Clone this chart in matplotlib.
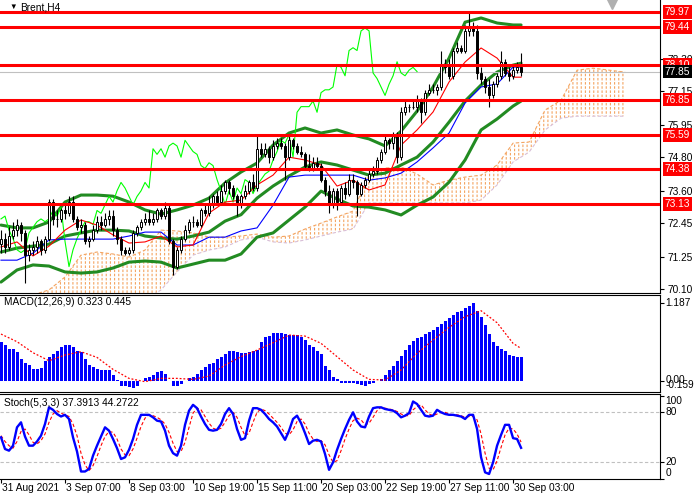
import matplotlib
matplotlib.use("Agg")
import matplotlib.pyplot as plt
from matplotlib.transforms import blended_transform_factory
import numpy as np

plt.rcParams['font.family'] = ['Liberation Sans', 'DejaVu Sans']
plt.rcParams['hatch.color'] = '#F4A460'

# ---- price bars (Brent H4) ----
opens = [71.7, 71.9, 71.6, 72.0, 72.2, 72.4, 72.1, 71.3, 71.5, 71.6,
         71.8, 71.5, 71.9, 73.2, 72.6, 72.6, 72.9, 72.8, 73.2, 72.6,
         72.3, 72.4, 71.8, 71.9, 72.2, 72.5, 72.4, 72.6, 72.7, 72.2,
         71.9, 71.5, 71.4, 71.5, 72.1, 72.3, 72.5, 72.6, 72.5, 72.6,
         72.9, 72.7, 73.0, 71.8, 70.9, 71.5, 71.9, 72.2, 72.5, 72.5,
         72.4, 72.9, 72.8, 73.1, 73.4, 73.2, 73.6, 73.9, 73.7, 73.4,
         73.1, 73.4, 73.6, 73.9, 73.7, 75.1, 74.9, 75.1, 74.8, 75.2,
         75.3, 75.2, 74.8, 75.4, 75.2, 75.0, 74.9, 74.5, 74.4, 74.6,
         74.5, 74.0, 73.6, 73.1, 73.6, 73.2, 73.7, 73.5, 74.0, 73.9,
         73.5, 73.8, 74.0, 74.2, 74.3, 74.7, 75.0, 75.4, 75.3, 75.6,
         74.8, 76.4, 76.6, 76.6, 76.6, 76.8, 76.4, 77.1, 77.2, 77.2,
         77.3, 78.1, 78.0, 77.7, 78.6, 78.7, 78.6, 79.3, 79.4, 79.3,
         77.8, 77.6, 77.3, 77.0, 77.4, 77.7, 78.2, 77.8, 77.7, 77.9,
         78.0]
highs = [72.2, 72.1, 72.3, 72.5, 72.6, 72.5, 72.2, 71.7, 71.8, 72.0,
         71.9, 72.0, 73.3, 73.3, 72.9, 73.0, 73.1, 73.4, 73.4, 72.7,
         72.6, 72.5, 72.0, 72.4, 72.7, 72.7, 72.8, 72.9, 72.9, 72.3,
         72.0, 71.6, 71.6, 72.2, 72.4, 72.6, 72.8, 72.9, 72.8, 73.0,
         73.0, 73.2, 73.1, 71.9, 71.6, 72.0, 72.4, 72.6, 72.7, 72.6,
         73.0, 73.1, 73.4, 73.5, 73.6, 73.8, 74.0, 74.0, 73.8, 73.5,
         73.5, 73.8, 74.0, 74.2, 75.6, 75.3, 75.3, 75.2, 75.4, 75.5,
         75.5, 75.3, 75.6, 75.5, 75.3, 75.2, 75.0, 74.9, 74.8, 74.8,
         74.6, 74.1, 73.8, 73.7, 73.7, 73.8, 73.9, 74.2, 74.2, 74.0,
         73.9, 74.1, 74.4, 74.5, 74.8, 75.1, 75.6, 75.5, 75.7, 75.7,
         76.6, 76.8, 76.7, 76.8, 77.0, 76.9, 77.2, 77.4, 77.4, 77.4,
         78.6, 78.3, 78.3, 78.7, 78.9, 78.8, 79.5, 79.97, 79.6, 79.5,
         78.0, 77.7, 77.6, 77.5, 77.8, 78.6, 78.3, 78.0, 78.1, 78.2,
         78.5]
lows = [71.4, 71.4, 71.5, 71.9, 72.0, 71.8, 70.3, 71.1, 71.3, 71.4,
        71.3, 71.4, 71.8, 72.4, 72.3, 72.5, 72.6, 72.7, 72.5, 72.2,
        72.1, 71.7, 71.6, 71.8, 72.1, 72.2, 72.3, 72.4, 72.0, 71.7,
        71.3, 71.3, 71.3, 71.4, 72.0, 72.2, 72.4, 72.4, 72.4, 72.5,
        72.6, 72.6, 71.7, 70.6, 70.8, 71.4, 71.8, 72.1, 72.3, 72.3,
        72.3, 72.7, 72.7, 73.0, 73.1, 73.1, 73.5, 73.5, 73.3, 72.7,
        73.0, 73.3, 73.5, 73.6, 73.6, 74.8, 74.8, 74.6, 74.7, 75.1,
        75.1, 74.0, 74.7, 75.1, 74.9, 74.8, 74.4, 74.3, 74.3, 74.4,
        73.9, 73.4, 72.8, 73.0, 72.9, 73.1, 73.3, 73.4, 73.7, 72.7,
        73.4, 73.7, 73.9, 74.1, 74.2, 74.6, 74.9, 75.1, 75.1, 74.6,
        74.7, 76.3, 76.4, 76.5, 76.4, 76.0, 76.3, 77.0, 77.1, 77.0,
        77.2, 77.8, 77.6, 77.6, 78.5, 78.5, 78.5, 79.1, 79.1, 77.6,
        77.4, 77.1, 76.6, 76.9, 77.3, 77.6, 77.7, 77.5, 77.6, 77.8,
        77.7]
closes = [71.9, 71.6, 72.0, 72.2, 72.4, 72.1, 71.3, 71.5, 71.6, 71.8,
          71.5, 71.9, 73.2, 72.6, 72.6, 72.9, 72.8, 73.2, 72.6, 72.3,
          72.4, 71.8, 71.9, 72.2, 72.5, 72.4, 72.6, 72.7, 72.2, 71.9,
          71.5, 71.4, 71.5, 72.1, 72.3, 72.5, 72.6, 72.5, 72.6, 72.9,
          72.7, 73.0, 71.8, 70.9, 71.5, 71.9, 72.2, 72.5, 72.5, 72.4,
          72.9, 72.8, 73.1, 73.4, 73.2, 73.6, 73.9, 73.7, 73.4, 73.1,
          73.4, 73.6, 73.9, 73.7, 75.1, 74.9, 75.1, 74.8, 75.2, 75.3,
          75.2, 74.8, 75.4, 75.2, 75.0, 74.9, 74.5, 74.4, 74.6, 74.5,
          74.0, 73.6, 73.1, 73.6, 73.2, 73.7, 73.5, 74.0, 73.9, 73.5,
          73.8, 74.0, 74.2, 74.3, 74.7, 75.0, 75.4, 75.3, 75.6, 74.8,
          76.4, 76.6, 76.6, 76.6, 76.8, 76.4, 77.1, 77.2, 77.2, 77.3,
          78.1, 78.0, 77.7, 78.6, 78.7, 78.6, 79.3, 79.4, 79.3, 77.8,
          77.6, 77.3, 77.0, 77.4, 77.7, 78.2, 77.8, 77.7, 77.9, 78.0,
          77.85]

# ---- indicator lines, read every 4th bar (plus last bar) ----
bb_upper = [72.38, 72.28, 72.28, 72.49, 73.20, 73.45, 73.45, 73.41, 73.20, 72.92,
            72.77, 72.92, 73.09, 73.34, 73.88, 74.27, 74.59, 75.23, 75.66, 75.84,
            75.66, 75.77, 75.59, 75.45, 75.20, 75.73, 76.44, 77.30, 78.33, 79.61,
            79.76, 79.58, 79.51, 79.51]
bb_middle = [71.42, 71.56, 71.63, 71.70, 71.99, 72.10, 72.20, 72.20, 72.17, 71.99,
             71.92, 71.88, 71.99, 72.13, 72.52, 72.75, 73.34, 73.77, 74.13, 74.45,
             74.63, 74.52, 74.34, 74.16, 74.23, 74.52, 74.80, 75.34, 76.05, 76.80,
             77.37, 77.83, 78.08, 78.15]
bb_lower = [70.35, 70.78, 70.96, 70.92, 70.71, 70.67, 70.71, 70.85, 71.06, 71.10,
            71.06, 70.85, 70.99, 71.13, 71.13, 71.35, 71.95, 72.10, 72.56, 73.02,
            73.59, 73.31, 73.06, 73.02, 72.92, 72.74, 73.09, 73.38, 73.91, 74.70,
            75.77, 76.16, 76.62, 76.80]
tenkan = [71.60, 71.78, 71.28, 71.63, 72.20, 72.56, 72.38, 72.03, 71.74, 71.78,
          71.99, 71.60, 71.67, 72.81, 73.20, 73.27, 73.81, 74.16, 74.80, 74.70,
          74.52, 73.77, 73.98, 73.63, 73.81, 75.23, 75.77, 76.41, 77.48, 78.19,
          78.69, 78.33, 77.65, 77.65]
kijun = [71.13, 71.13, 71.38, 71.85, 71.88, 71.88, 71.88, 71.88, 71.99, 72.13,
         72.13, 71.67, 71.67, 71.95, 71.95, 72.17, 72.28, 73.09, 74.09, 74.16,
         74.16, 74.16, 74.16, 73.98, 74.06, 74.23, 74.63, 75.13, 75.66, 76.73,
         77.30, 77.41, 78.01, 78.01]
# cloud, every 4th bar up to 26 bars past the last candle
senkou_a = [69.71, 69.71, 69.89, 70.07, 70.53, 71.31, 71.42, 71.35, 71.24, 71.49,
            72.20, 72.17, 72.10, 71.95, 71.95, 71.99, 72.06, 71.95, 71.99, 72.24,
            72.45, 72.67, 72.88, 74.16, 74.41, 74.45, 74.20, 73.81, 73.98, 74.09,
            74.16, 74.52, 75.30, 75.34, 76.48, 76.83, 77.90, 77.97, 77.90, 77.83]
senkou_b = [69.35, 69.35, 69.35, 69.35, 69.35, 69.53, 69.53, 69.53, 69.60, 69.71,
            70.07, 70.71, 71.31, 71.49, 71.60, 71.85, 71.95, 71.78, 71.74, 71.85,
            71.99, 72.13, 72.24, 73.17, 73.17, 73.17, 73.17, 73.17, 73.17, 73.17,
            73.27, 73.81, 74.63, 74.98, 75.77, 76.19, 76.26, 76.26, 76.26, 76.26]

levels = [79.97, 79.44, 78.10, 76.85, 75.59, 74.38, 73.13]
last_price = 77.85
price_ticks = [70.10, 71.25, 72.45, 73.60, 74.80, 75.95, 77.15, 78.30]

# ---- MACD(12,26,9) ----
macd_hist = [0.53, 0.49, 0.44, 0.44, 0.40, 0.30, 0.25, 0.21, 0.16, 0.16,
             0.18, 0.27, 0.32, 0.37, 0.41, 0.46, 0.49, 0.49, 0.46, 0.41,
             0.40, 0.30, 0.21, 0.19, 0.16, 0.14, 0.14, 0.14, 0.07, 0.01,
             -0.07, -0.07, -0.09, -0.10, -0.07, -0.01, 0.03, 0.05, 0.08, 0.12,
             0.13, 0.09, 0.00, -0.07, -0.08, -0.05, -0.01, 0.04, 0.05, 0.09,
             0.14, 0.19, 0.23, 0.25, 0.30, 0.33, 0.37, 0.41, 0.41, 0.40,
             0.38, 0.38, 0.40, 0.41, 0.42, 0.53, 0.60, 0.62, 0.66, 0.66,
             0.66, 0.65, 0.63, 0.63, 0.63, 0.60, 0.56, 0.50, 0.46, 0.41,
             0.37, 0.20, 0.14, 0.05, 0.02, -0.03, -0.04, -0.04, -0.04, -0.05,
             -0.06, -0.07, -0.05, -0.03, 0.00, 0.02, 0.07, 0.14, 0.20, 0.27,
             0.34, 0.42, 0.50, 0.55, 0.59, 0.61, 0.64, 0.67, 0.70, 0.74,
             0.78, 0.83, 0.87, 0.91, 0.95, 0.97, 1.01, 1.04, 1.07, 0.97,
             0.88, 0.77, 0.65, 0.54, 0.48, 0.44, 0.41, 0.36, 0.34, 0.33,
             0.323]
macd_signal = [0.645, 0.539, 0.386, 0.275, 0.354, 0.400, 0.321, 0.155, 0.030, -0.016,
               0.030, 0.030, 0.016, 0.062, 0.215, 0.331, 0.423, 0.525, 0.631, 0.617,
               0.516, 0.331, 0.146, 0.016, 0.007, 0.146, 0.377, 0.562, 0.738, 0.886,
               0.969, 0.802, 0.516, 0.445]

# ---- Stochastic(5,3,3) ----
stoch_k = [50, 36, 34, 40, 62, 68, 51, 40, 40, 45,
           52, 66, 86, 83, 78, 75, 77, 72, 50, 33,
           9, 9, 12, 28, 40, 51, 62, 58, 48, 37,
           24, 26, 35, 48, 65, 77, 77, 77, 74, 70,
           69, 58, 40, 31, 28, 40, 65, 82, 89, 85,
           75, 66, 59, 58, 59, 66, 78, 85, 78, 60,
           47, 49, 70, 85, 85, 83, 78, 72, 68, 63,
           55, 47, 58, 72, 76, 67, 55, 42, 46, 47,
           45, 30, 11, 20, 35, 48, 60, 71, 80, 69,
           63, 62, 75, 85, 86, 86, 84, 83, 82, 79,
           74, 76, 79, 93, 90, 83, 76, 75, 76, 83,
           80, 78, 77, 77, 76, 75, 72, 77, 77, 60,
           26, 8, 6, 20, 40, 53, 65, 65, 49, 48,
           37.39]
stoch_d = [52, 45, 40, 37, 45, 57, 60, 53, 44, 42,
           46, 54, 68, 78, 82, 79, 77, 75, 66, 52,
           31, 17, 10, 16, 27, 40, 51, 57, 56, 48,
           36, 29, 28, 36, 49, 63, 73, 77, 76, 74,
           71, 66, 56, 43, 33, 33, 44, 62, 79, 85,
           83, 75, 67, 61, 59, 61, 68, 76, 80, 74,
           62, 52, 55, 68, 80, 84, 82, 78, 73, 68,
           62, 55, 53, 59, 69, 72, 66, 55, 48, 45,
           46, 41, 29, 20, 22, 34, 48, 60, 70, 73,
           71, 65, 67, 74, 82, 86, 85, 84, 83, 81,
           78, 76, 76, 83, 87, 89, 83, 78, 76, 78,
           80, 80, 78, 77, 77, 76, 74, 75, 75, 71,
           54, 31, 13, 11, 22, 38, 53, 61, 60, 54,
           44.27]

date_labels = ["31 Aug 2021", "3 Sep 07:00", "8 Sep 03:00", "10 Sep 19:00",
               "15 Sep 11:00", "20 Sep 03:00", "22 Sep 19:00", "27 Sep 11:00",
               "30 Sep 03:00"]


def plot_chart():
    n = len(closes)
    idx = np.arange(n)
    samp = list(range(0, n - 1, 4)) + [n - 1]
    cloud_x = list(range(0, n + 26, 4))
    label_bars = list(range(0, n, 16))

    o = np.array(opens)
    c = np.array(closes)
    up = c >= o

    fig = plt.figure(figsize=(7, 5), dpi=100)
    fig.patch.set_facecolor('white')
    ax = fig.add_axes([0, 0.414, 0.943, 0.586])
    ax_m = fig.add_axes([0, 0.216, 0.943, 0.194])
    ax_s = fig.add_axes([0, 0.042, 0.943, 0.170])
    xlim = (-0.25, 164.75)
    fs = 7.3

    for a in (ax, ax_m, ax_s):
        a.set_xlim(*xlim)
        a.spines['left'].set_visible(False)
        a.set_xticks([])
        a.yaxis.tick_right()
        a.tick_params(axis='y', length=3, width=0.8, labelsize=fs, pad=2)
    ax.spines['top'].set_visible(False)

    # ---- main window ----
    ax.set_ylim(69.96, 80.40)
    # cloud: vertical orange hatch, broken into dashes by a white horizontal hatch
    with plt.rc_context({'hatch.linewidth': 0.8, 'hatch.color': '#F4A460'}):
        ax.fill_between(cloud_x, senkou_b, senkou_a, facecolor='none',
                        edgecolor='#F4A460', hatch='||||', linewidth=0, zorder=1)
    with plt.rc_context({'hatch.linewidth': 1.2, 'hatch.color': 'white'}):
        ax.fill_between(cloud_x, senkou_b, senkou_a, facecolor='none',
                        edgecolor='white', hatch='----', linewidth=0, zorder=1.1)
    ax.plot(cloud_x, senkou_a, color='#F4A460', lw=0.8, ls=(0, (3, 2)), zorder=1.2)
    ax.plot(cloud_x, senkou_b, color='#D8BFD8', lw=0.8, ls=(0, (3, 2)), zorder=1.2)

    for band in (bb_upper, bb_middle, bb_lower):
        ax.plot(samp, band, color='#228B22', lw=2.2, zorder=2, solid_capstyle='round')
    ax.plot(idx[:n - 26], closes[26:], color='#00FF00', lw=0.8, zorder=2.2)
    ax.plot(samp, kijun, color='#0000FF', lw=0.8, zorder=2.3)
    ax.plot(samp, tenkan, color='#FF0000', lw=0.8, zorder=2.4)

    ax.vlines(idx, lows, highs, color='black', lw=0.8, zorder=3)
    ax.bar(idx[up], (c - o)[up], bottom=o[up], width=0.7, color='white',
           edgecolor='black', linewidth=0.7, zorder=4)
    ax.bar(idx[~up], (o - c)[~up], bottom=c[~up], width=0.7, color='black',
           edgecolor='black', linewidth=0.7, zorder=4)

    ax.axhline(last_price, color='#C0C0C0', lw=0.8, zorder=2.1)
    for lvl in levels:
        ax.axhline(lvl, color='#FF0000', lw=2.2, zorder=5)

    ax.set_yticks(price_ticks)
    ax.set_yticklabels(['%.2f' % t for t in price_ticks])
    tr = blended_transform_factory(ax.transAxes, ax.transData)
    for lvl in levels:
        ax.text(1.007, lvl, '%.2f' % lvl, transform=tr, color='white', fontsize=fs,
                va='center', ha='left', clip_on=False, zorder=10,
                bbox=dict(boxstyle='square,pad=0.18', fc='#FF0000', ec='none'))
    ax.text(1.007, last_price, '%.2f' % last_price, transform=tr, color='white',
            fontsize=fs, va='center', ha='left', clip_on=False, zorder=10,
            bbox=dict(boxstyle='square,pad=0.18', fc='black', ec='none'))

    fig.text(9 / 700, 1 - 7 / 500, '\u25bc', fontsize=5.5, va='center', ha='left')
    fig.text(20 / 700, 1 - 7 / 500, 'Brent,H4', fontsize=fs, va='center', ha='left')
    ax.plot([152.75], [0.985], marker='v', color='#B0B0B0', markersize=7,
            transform=blended_transform_factory(ax.transData, ax.transAxes),
            clip_on=False, zorder=11)

    # ---- MACD window ----
    ax_m.set_ylim(-0.159, 1.187)
    ax_m.bar(idx, macd_hist, width=0.75, color='#0000FF', zorder=2)
    ax_m.plot(samp, macd_signal, color='#FF0000', lw=0.9, ls=(0, (1.5, 1.5)), zorder=3)
    ax_m.set_yticks([0.0, 1.076])
    ax_m.set_yticklabels([])
    trm = blended_transform_factory(ax_m.transAxes, ax_m.transData)
    ax_m.text(1.008, 1.076, '1.187', transform=trm, fontsize=fs, va='center', ha='left')
    ax_m.text(1.008, 0.012, '0.00', transform=trm, fontsize=fs, va='center', ha='left')
    ax_m.text(1.008, -0.068, '-0.159', transform=trm, fontsize=fs, va='center', ha='left')
    ax_m.text(0.006, 0.93, 'MACD(12,26,9) 0.323 0.445', transform=ax_m.transAxes,
              fontsize=fs, va='center', ha='left')

    # ---- Stochastic window ----
    ax_s.set_ylim(0, 102)
    ax_s.axhline(80, color='#C0C0C0', lw=0.8, ls=(0, (3, 2)))
    ax_s.axhline(20, color='#C0C0C0', lw=0.8, ls=(0, (3, 2)))
    ax_s.plot(idx, stoch_d, color='#FF0000', lw=0.8, ls=(0, (3, 2)), zorder=2)
    ax_s.plot(idx, stoch_k, color='#0000FF', lw=1.7, zorder=3)
    ax_s.set_yticks([0, 20, 80, 100])
    ax_s.set_yticklabels([])
    trs = blended_transform_factory(ax_s.transAxes, ax_s.transData)
    for val, ypos in ((100, 94), (80, 80.3), (20, 20), (0, 7.6)):
        ax_s.text(1.008, ypos, str(val), transform=trs, fontsize=fs, va='center', ha='left')
    ax_s.text(0.006, 0.9, 'Stoch(5,3,3) 37.3913 44.2722', transform=ax_s.transAxes,
              fontsize=fs, va='center', ha='left')

    ax_s.set_xticks(label_bars)
    ax_s.set_xticklabels([])
    ax_s.tick_params(axis='x', length=3, width=0.8)
    trx = blended_transform_factory(ax_s.transData, fig.transFigure)
    for b, lab in zip(label_bars, date_labels):
        ax_s.text(b + 0.3, 1 - 488 / 500, lab, transform=trx, fontsize=fs,
                  va='center', ha='left', clip_on=False)

    fig.savefig('out.png', dpi=100, facecolor='white')


if __name__ == "__main__":
    plot_chart()
